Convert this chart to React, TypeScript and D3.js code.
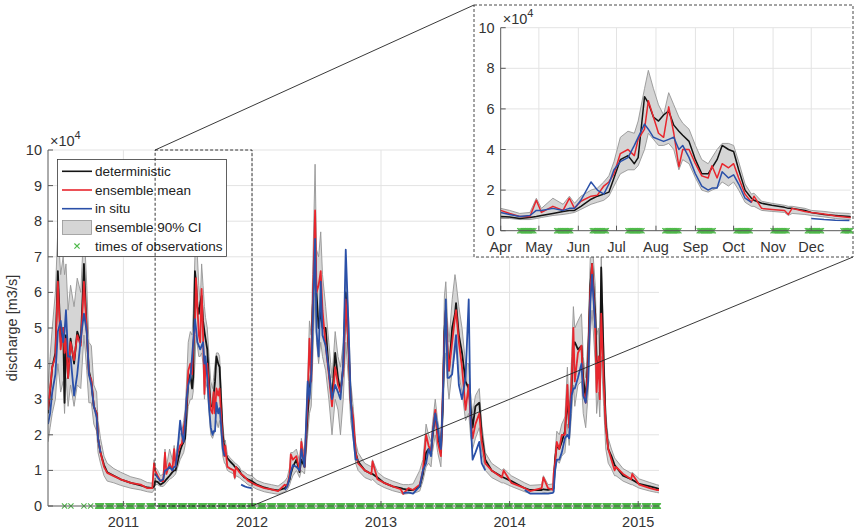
import React from 'react';
import * as d3 from 'd3';

// discharge in 10^4 m3/s: [date, deterministic, ensemble mean, in situ, CI 5%, CI 95%]
type Row = [string, number, number, number | null, number, number];

const season2010: Row[] = [
  ['2010-06-01', 2.6, 2.7, 2.3, 1.8, 3.3],
  ['2010-06-07', 3.2, 3.3, 2.6, 2.2, 4.2],
  ['2010-06-13', 3.9, 3.9, 3.2, 2.6, 5.0],
  ['2010-06-22', 4.3, 4.2, 3.7, 3.0, 6.0],
  ['2010-06-29', 6.6, 6.3, 4.9, 4.0, 7.8],
  ['2010-07-07', 4.6, 4.4, 5.2, 3.2, 6.5],
  ['2010-07-14', 5.0, 5.0, 4.6, 3.5, 7.0],
  ['2010-07-18', 2.9, 4.3, 4.9, 2.6, 6.5],
  ['2010-07-22', 4.8, 4.7, 5.5, 3.6, 6.8],
  ['2010-07-28', 3.6, 3.6, 4.2, 2.8, 5.5],
  ['2010-08-04', 4.7, 4.6, 4.2, 3.4, 6.2],
  ['2010-08-14', 4.0, 4.1, 3.1, 2.8, 5.6],
  ['2010-08-23', 4.9, 4.8, 3.7, 3.4, 6.4],
  ['2010-09-02', 4.6, 4.5, 4.7, 3.3, 6.0],
  ['2010-09-11', 6.8, 6.3, 5.4, 4.8, 7.9],
  ['2010-09-19', 4.9, 4.9, 4.9, 3.8, 6.2],
  ['2010-09-25', 3.8, 3.7, 3.7, 2.9, 4.6],
  ['2010-10-02', 3.5, 3.55, 3.4, 2.9, 4.5],
  ['2010-10-09', 2.8, 2.8, 2.8, 2.3, 3.4],
  ['2010-10-17', 2.6, 2.6, 2.5, 2.1, 3.2],
  ['2010-10-21', 1.9, 1.9, 1.9, 1.5, 2.4],
  ['2010-10-28', 1.5, 1.5, 1.5, 1.2, 1.9],
  ['2010-11-07', 1.15, 1.1, null, 0.85, 1.4],
  ['2010-11-16', 0.95, 0.93, null, 0.7, 1.2],
  ['2010-12-05', 0.85, 0.84, null, 0.65, 1.05],
  ['2010-12-24', 0.75, 0.75, null, 0.58, 0.95],
  ['2011-01-22', 0.65, 0.65, null, 0.5, 0.82],
  ['2011-02-19', 0.58, 0.6, null, 0.45, 0.75],
  ['2011-03-10', 0.52, 0.5, null, 0.4, 0.66],
  ['2011-03-24', 0.5, 0.5, null, 0.38, 0.64],
  ['2011-03-29', 0.55, 1.2, null, 0.45, 1.3],
];

const season2011: Row[] = [
  ['2011-04-01', 0.7, 1.0, 0.9, 0.6, 1.1],
  ['2011-04-08', 0.68, 0.85, 0.8, 0.6, 1.0],
  ['2011-04-16', 0.6, 0.7, 0.7, 0.55, 0.85],
  ['2011-04-24', 0.65, 0.7, 0.75, 0.55, 0.9],
  ['2011-04-29', 0.7, 1.5, 1.0, 0.6, 1.6],
  ['2011-05-03', 0.75, 0.9, 1.0, 0.65, 1.1],
  ['2011-05-12', 0.85, 1.2, 1.1, 0.75, 1.6],
  ['2011-05-20', 0.95, 1.0, 1.0, 0.8, 1.3],
  ['2011-05-25', 1.0, 1.6, 1.1, 0.85, 1.7],
  ['2011-05-29', 1.0, 1.1, 1.1, 0.9, 1.35],
  ['2011-06-03', 1.2, 1.45, 1.5, 1.05, 1.7],
  ['2011-06-11', 1.55, 1.7, 2.4, 1.3, 2.0],
  ['2011-06-16', 1.7, 1.75, 2.0, 1.4, 2.1],
  ['2011-06-21', 1.8, 2.2, 1.8, 1.5, 2.4],
  ['2011-06-25', 1.9, 2.4, 2.3, 1.7, 2.7],
  ['2011-06-29', 2.6, 2.8, 3.0, 2.2, 3.4],
  ['2011-07-04', 3.5, 3.8, 3.4, 2.8, 4.6],
  ['2011-07-10', 3.7, 4.0, 3.6, 3.0, 4.9],
  ['2011-07-15', 3.3, 3.7, 4.2, 3.0, 4.8],
  ['2011-07-18', 3.6, 4.5, 4.6, 3.2, 5.4],
  ['2011-07-23', 6.6, 5.0, 5.25, 4.0, 7.0],
  ['2011-07-26', 6.3, 6.4, 5.0, 4.8, 7.9],
  ['2011-07-30', 5.6, 5.6, 4.6, 4.5, 7.0],
  ['2011-08-03', 5.4, 4.8, 4.5, 4.2, 6.2],
  ['2011-08-07', 5.7, 4.6, 4.4, 4.2, 5.7],
  ['2011-08-11', 5.9, 6.1, 4.5, 4.3, 6.8],
  ['2011-08-15', 5.2, 4.8, 4.6, 4.0, 6.2],
  ['2011-08-19', 4.9, 3.15, 4.0, 3.0, 5.6],
  ['2011-08-22', 4.7, 4.0, 4.2, 3.5, 5.3],
  ['2011-08-27', 4.4, 4.0, 3.6, 3.3, 5.0],
  ['2011-09-01', 3.5, 3.3, 2.8, 2.6, 4.2],
  ['2011-09-06', 2.8, 2.7, 2.2, 2.0, 3.5],
  ['2011-09-11', 2.8, 2.6, 2.0, 1.9, 3.3],
  ['2011-09-14', 3.1, 3.2, 2.1, 2.0, 3.6],
  ['2011-09-18', 3.5, 2.6, 2.1, 2.1, 4.0],
  ['2011-09-22', 4.2, 3.3, 2.9, 2.4, 4.3],
  ['2011-09-27', 4.0, 3.1, 2.6, 2.2, 4.3],
  ['2011-10-01', 3.9, 3.3, 2.75, 2.4, 4.2],
  ['2011-10-05', 3.0, 2.6, 2.3, 2.0, 3.4],
  ['2011-10-10', 2.0, 1.8, 1.6, 1.4, 2.3],
  ['2011-10-15', 1.6, 1.4, 1.4, 1.2, 1.8],
  ['2011-10-17', 1.5, 1.7, null, 1.2, 1.85],
  ['2011-10-23', 1.35, 1.1, null, 1.0, 1.45],
  ['2011-10-31', 1.25, 1.05, null, 0.95, 1.35],
  ['2011-11-10', 1.15, 1.0, null, 0.9, 1.25],
  ['2011-11-13', 1.1, 0.8, null, 0.75, 1.2],
  ['2011-11-16', 1.1, 1.1, null, 0.85, 1.2],
  ['2011-11-26', 1.0, 0.95, null, 0.8, 1.1],
  ['2011-12-01', 0.9, 0.9, 0.6, 0.75, 1.0],
  ['2011-12-11', 0.8, 0.82, 0.55, 0.68, 0.95],
  ['2011-12-20', 0.75, 0.72, 0.52, 0.6, 0.88],
  ['2011-12-31', 0.7, 0.65, 0.5, 0.55, 0.85],
];

const season2012: Row[] = [
  ['2012-01-15', 0.6, 0.58, null, 0.47, 0.72],
  ['2012-02-05', 0.52, 0.5, null, 0.4, 0.64],
  ['2012-02-25', 0.47, 0.47, null, 0.36, 0.6],
  ['2012-03-15', 0.44, 0.42, null, 0.33, 0.56],
  ['2012-04-03', 0.5, 0.6, 0.45, 0.4, 0.7],
  ['2012-04-10', 0.6, 0.55, 0.55, 0.45, 0.8],
  ['2012-04-17', 0.75, 0.9, 0.8, 0.6, 1.1],
  ['2012-04-20', 0.9, 1.45, 0.95, 0.7, 1.5],
  ['2012-04-26', 1.1, 1.3, 1.15, 0.85, 1.5],
  ['2012-05-06', 1.3, 1.4, 1.1, 1.0, 1.6],
  ['2012-05-15', 0.95, 1.0, 1.0, 0.8, 1.25],
  ['2012-05-20', 1.3, 1.8, 1.6, 1.0, 1.9],
  ['2012-05-29', 1.1, 1.1, 1.1, 0.9, 1.4],
  ['2012-06-07', 2.6, 3.0, 3.5, 2.0, 3.6],
  ['2012-06-12', 3.2, 4.7, 3.0, 2.6, 5.2],
  ['2012-06-17', 3.8, 3.5, 3.7, 2.8, 4.8],
  ['2012-06-21', 5.5, 5.5, 5.0, 4.0, 6.5],
  ['2012-06-28', 7.3, 8.3, 7.5, 6.0, 9.6],
  ['2012-07-02', 6.0, 6.0, 4.9, 4.6, 7.2],
  ['2012-07-08', 5.0, 6.2, 4.2, 4.0, 7.0],
  ['2012-07-14', 5.5, 6.6, 6.3, 4.6, 7.7],
  ['2012-07-19', 5.0, 5.5, 4.8, 4.2, 6.5],
  ['2012-07-28', 5.0, 4.5, 4.5, 3.8, 5.6],
  ['2012-08-06', 3.8, 3.7, 3.8, 3.0, 4.6],
  ['2012-08-15', 3.0, 2.8, 3.0, 2.0, 3.6],
  ['2012-08-24', 4.3, 3.9, 3.4, 3.0, 4.9],
  ['2012-09-01', 3.6, 3.4, 3.2, 2.7, 4.2],
  ['2012-09-08', 3.2, 3.2, 3.0, 2.0, 3.9],
  ['2012-09-16', 3.9, 3.8, 4.0, 3.0, 4.6],
  ['2012-09-23', 6.0, 5.8, 7.2, 4.6, 6.6],
  ['2012-10-01', 4.4, 4.5, 5.0, 3.5, 5.3],
  ['2012-10-07', 3.0, 2.9, 3.0, 2.4, 3.5],
  ['2012-10-14', 2.3, 2.5, 2.0, 1.9, 2.8],
  ['2012-10-21', 1.5, 1.5, 1.3, 1.2, 1.8],
  ['2012-10-28', 1.25, 1.2, 1.3, 1.0, 1.5],
  ['2012-11-16', 1.0, 1.0, null, 0.8, 1.2],
  ['2012-12-05', 0.9, 0.9, null, 0.72, 1.1],
  ['2012-12-08', 0.9, 1.25, null, 0.75, 1.3],
  ['2012-12-22', 0.8, 0.75, null, 0.62, 0.95],
];

const season2013: Row[] = [
  ['2013-01-10', 0.65, 0.65, null, 0.52, 0.8],
  ['2013-02-03', 0.55, 0.55, null, 0.43, 0.7],
  ['2013-02-26', 0.5, 0.47, null, 0.37, 0.62],
  ['2013-03-05', 0.48, 0.34, 0.36, 0.33, 0.6],
  ['2013-03-20', 0.45, 0.5, 0.38, 0.35, 0.6],
  ['2013-04-02', 0.45, 0.45, 0.35, 0.35, 0.62],
  ['2013-04-21', 0.55, 0.6, 0.55, 0.42, 1.0],
  ['2013-04-30', 0.9, 1.0, 1.0, 0.7, 1.3],
  ['2013-05-09', 1.5, 2.0, 1.2, 1.1, 2.3],
  ['2013-05-16', 1.6, 1.7, 1.6, 1.2, 2.0],
  ['2013-05-23', 1.5, 1.5, 1.4, 1.1, 1.8],
  ['2013-05-27', 1.9, 2.0, 2.0, 1.5, 2.3],
  ['2013-06-04', 2.6, 2.7, 2.6, 2.0, 3.0],
  ['2013-06-11', 2.0, 1.8, 2.2, 1.5, 2.4],
  ['2013-06-20', 1.5, 1.4, 1.6, 1.1, 1.9],
  ['2013-06-25', 2.7, 3.0, 2.8, 2.2, 3.5],
  ['2013-06-30', 4.9, 4.7, 4.5, 3.8, 5.9],
  ['2013-07-04', 5.5, 5.5, 5.8, 4.3, 6.3],
  ['2013-07-09', 4.3, 4.4, 3.6, 3.4, 5.2],
  ['2013-07-13', 3.8, 3.8, 3.6, 3.0, 4.6],
  ['2013-07-22', 5.0, 4.6, 3.7, 3.8, 5.8],
  ['2013-07-30', 5.4, 5.3, 4.5, 4.3, 6.5],
  ['2013-08-02', 5.7, 5.5, 4.8, 4.5, 6.3],
  ['2013-08-10', 4.8, 4.6, 3.4, 3.7, 5.6],
  ['2013-08-19', 4.3, 3.9, 3.0, 3.2, 5.0],
  ['2013-08-29', 3.5, 2.7, 3.6, 2.4, 4.0],
  ['2013-09-07', 3.3, 3.4, 5.8, 2.6, 4.0],
  ['2013-09-12', 2.8, 2.5, 2.5, 2.0, 3.2],
  ['2013-09-18', 2.2, 1.9, 1.3, 1.6, 2.6],
  ['2013-09-26', 2.8, 2.3, 1.5, 1.9, 3.1],
  ['2013-10-07', 2.9, 2.6, 1.8, 2.2, 3.3],
  ['2013-10-14', 2.0, 1.8, 1.2, 1.5, 2.3],
  ['2013-10-24', 1.3, 1.2, 1.0, 1.0, 1.5],
  ['2013-11-11', 1.0, 1.0, null, 0.8, 1.2],
  ['2013-12-10', 0.82, 0.8, null, 0.65, 1.0],
  ['2013-12-15', 0.8, 1.0, null, 0.65, 1.05],
];

const season2014: Row[] = [
  ['2014-01-06', 0.7, 0.65, null, 0.55, 0.85],
  ['2014-02-13', 0.5, 0.5, 0.45, 0.4, 0.65],
  ['2014-02-28', 0.45, 0.42, 0.35, 0.35, 0.58],
  ['2014-04-02', 0.45, 0.5, 0.35, 0.35, 0.6],
  ['2014-04-07', 0.47, 0.8, 0.35, 0.38, 0.85],
  ['2014-04-20', 0.45, 0.5, 0.35, 0.36, 0.6],
  ['2014-05-04', 0.48, 0.45, 0.37, 0.38, 0.62],
  ['2014-05-06', 0.5, 0.9, 0.4, 0.4, 0.95],
  ['2014-05-10', 1.3, 1.2, 1.0, 0.9, 1.5],
  ['2014-05-15', 1.7, 1.8, 1.3, 1.3, 2.1],
  ['2014-05-22', 1.6, 1.6, 1.3, 1.2, 2.0],
  ['2014-05-29', 1.8, 2.0, 1.5, 1.4, 2.3],
  ['2014-06-07', 2.1, 2.0, 1.9, 1.5, 2.5],
  ['2014-06-14', 3.0, 3.4, 2.0, 2.3, 3.9],
  ['2014-06-19', 2.3, 2.2, 1.9, 1.7, 2.7],
  ['2014-06-26', 3.3, 3.5, 3.1, 2.6, 4.2],
  ['2014-07-01', 4.5, 5.0, 3.3, 3.4, 5.6],
  ['2014-07-05', 4.6, 3.5, 3.3, 2.8, 5.0],
  ['2014-07-14', 4.4, 4.3, 3.6, 3.4, 5.2],
  ['2014-07-24', 4.5, 4.5, 4.0, 3.5, 5.4],
  ['2014-07-29', 3.6, 3.2, 3.1, 2.6, 4.2],
  ['2014-08-05', 3.0, 2.9, 2.9, 2.2, 3.6],
  ['2014-08-12', 4.2, 4.0, 3.5, 3.2, 4.8],
  ['2014-08-18', 6.2, 6.0, 5.7, 4.8, 7.0],
  ['2014-08-23', 6.8, 6.8, 6.5, 5.5, 7.5],
  ['2014-09-01', 5.4, 5.0, 5.0, 4.0, 6.2],
  ['2014-09-05', 4.1, 3.2, null, 2.6, 4.8],
  ['2014-09-10', 4.0, 4.2, null, 3.2, 5.0],
  ['2014-09-14', 3.6, 3.0, null, 2.5, 4.2],
  ['2014-09-18', 6.7, 5.4, null, 4.2, 7.0],
  ['2014-09-25', 4.0, 3.5, null, 2.8, 4.6],
  ['2014-10-01', 2.3, 2.2, null, 1.6, 2.6],
  ['2014-10-08', 1.6, 1.6, null, 1.2, 1.9],
  ['2014-10-17', 1.4, 1.3, null, 1.05, 1.6],
  ['2014-10-26', 1.15, 1.0, null, 0.85, 1.35],
  ['2014-10-30', 1.1, 1.1, null, 0.85, 1.3],
  ['2014-11-19', 0.85, 0.9, null, 0.7, 1.05],
  ['2014-12-12', 0.75, 0.75, null, 0.6, 0.92],
  ['2014-12-15', 0.74, 0.9, null, 0.6, 0.95],
  ['2015-01-04', 0.62, 0.6, null, 0.5, 0.76],
  ['2015-02-03', 0.55, 0.5, null, 0.42, 0.66],
  ['2015-02-22', 0.5, 0.45, null, 0.38, 0.6],
  ['2015-03-01', 0.48, 0.45, null, 0.37, 0.58],
];

const yearTicks = ['2011', '2012', '2013', '2014', '2015'];
const monthTicks = ['Apr', 'May', 'Jun', 'Jul', 'Aug', 'Sep', 'Oct', 'Nov', 'Dec'];
const mainYTicks = [0, 1, 2, 3, 4, 5, 6, 7, 8, 9, 10];
const insetYTicks = [0, 2, 4, 6, 8, 10];

// single observations in 2010, then windows of daily observations
const obsSingle = ['2010-07-18', '2010-08-05', '2010-09-11', '2010-09-30'];
const obsWindowStarts = [
  '2010-10-20', '2010-11-18', '2010-12-17', '2011-01-15', '2011-02-13', '2011-03-15',
  '2011-04-16', '2011-05-15', '2011-06-12', '2011-07-10', '2011-08-08', '2011-09-04',
  '2011-10-03', '2011-11-01', '2011-11-28', '2011-12-26', '2012-01-23', '2012-02-20',
  '2012-03-19', '2012-04-16', '2012-05-14', '2012-06-11', '2012-07-09', '2012-08-06',
  '2012-09-03', '2012-10-01', '2012-10-29', '2012-11-26', '2012-12-24', '2013-01-21',
  '2013-02-18', '2013-03-18', '2013-04-15', '2013-05-13', '2013-06-10', '2013-07-08',
  '2013-08-05', '2013-09-02', '2013-09-30', '2013-10-28', '2013-11-25', '2013-12-23',
  '2014-01-20', '2014-02-17', '2014-03-17', '2014-04-14', '2014-05-12', '2014-06-09',
  '2014-07-07', '2014-08-04', '2014-09-01', '2014-09-29', '2014-10-27', '2014-11-24',
  '2014-12-22', '2015-01-19', '2015-02-16',
];
const obsWindowDays = 12;

const parse = d3.timeParse('%Y-%m-%d');
const font = '"Liberation Sans", Arial, Helvetica, sans-serif';
const C = {
  det: '#141414',
  mean: '#e8262d',
  situ: '#2a50a8',
  ciFill: '#d5d5d5',
  ciEdge: '#959595',
  obs: '#4db848',
  grid: '#e3e3e3',
  axis: '#595959',
  text: '#333333',
};

interface Pt {
  date: Date;
  det: number;
  mean: number;
  situ: number | null;
  lo: number;
  hi: number;
}

const rows: Pt[] = [...season2010, ...season2011, ...season2012, ...season2013, ...season2014].map(r => ({
  date: parse(r[0])!,
  det: r[1],
  mean: r[2],
  situ: r[3],
  lo: r[4],
  hi: r[5],
}));

const obsDates: Date[] = [
  ...obsSingle.map(d => parse(d)!),
  ...obsWindowStarts.flatMap(s => d3.range(obsWindowDays).map(i => d3.timeDay.offset(parse(s)!, i))),
];

const cross = 'M-2.6,-2.6L2.6,2.6M-2.6,2.6L2.6,-2.6';

interface PanelProps {
  id: string;
  x: d3.ScaleTime<number, number>;
  y: d3.ScaleLinear<number, number>;
  lw: number;
}

function Series({ id, x, y, lw }: PanelProps) {
  const [x0, x1] = x.range();
  const [y0, y1] = y.range();
  const band = d3.area<Pt>().x(d => x(d.date)).y0(d => y(d.lo)).y1(d => y(d.hi));
  const edge = (k: 'lo' | 'hi') => d3.line<Pt>().x(d => x(d.date)).y(d => y(d[k]))(rows)!;
  const line = (k: 'det' | 'mean' | 'situ') =>
    d3
      .line<Pt>()
      .defined(d => d[k] != null)
      .x(d => x(d.date))
      .y(d => y(d[k] as number))(rows)!;
  const [d0, d1] = x.domain();
  const obs = obsDates.filter(d => d >= d0 && d <= d1);
  return (
    <g>
      <clipPath id={id}>
        <rect x={x0} y={y1} width={x1 - x0} height={y0 - y1} />
      </clipPath>
      <g clipPath={`url(#${id})`}>
        <path d={band(rows)!} fill={C.ciFill} stroke="none" />
        <path d={edge('lo')} fill="none" stroke={C.ciEdge} strokeWidth={0.9} />
        <path d={edge('hi')} fill="none" stroke={C.ciEdge} strokeWidth={0.9} />
        <path d={line('det')} fill="none" stroke={C.det} strokeWidth={lw} strokeLinejoin="round" />
        <path d={line('mean')} fill="none" stroke={C.mean} strokeWidth={lw} strokeLinejoin="round" />
        <path d={line('situ')} fill="none" stroke={C.situ} strokeWidth={lw} strokeLinejoin="round" />
      </g>
      <g stroke={C.obs} strokeWidth={1.1} fill="none">
        {obs.map((d, i) => (
          <path key={i} d={cross} transform={`translate(${x(d)},${y(0)})`} />
        ))}
      </g>
    </g>
  );
}

function Frame({
  x,
  y,
  xTicks,
  xLabels,
  yTicks,
}: {
  x: d3.ScaleTime<number, number>;
  y: d3.ScaleLinear<number, number>;
  xTicks: Date[];
  xLabels: string[];
  yTicks: number[];
}) {
  const [x0, x1] = x.range();
  const [y0, y1] = y.range();
  return (
    <g fontFamily={font} fontSize={14.5} fill={C.text}>
      {xTicks.map((t, i) => (
        <g key={i}>
          <text x={x(t)} y={y0 + 21} textAnchor="middle">
            {xLabels[i]}
          </text>
          <line x1={x(t)} x2={x(t)} y1={y0} y2={y0 - 5} stroke={C.axis} />
        </g>
      ))}
      {yTicks.map(t => (
        <g key={t}>
          <text x={x0 - 6} y={y(t)} dy="0.35em" textAnchor="end">
            {t}
          </text>
          <line x1={x0} x2={x0 + 5} y1={y(t)} y2={y(t)} stroke={C.axis} />
        </g>
      ))}
      <line x1={x0} x2={x0} y1={y0} y2={y1} stroke={C.axis} />
      <line x1={x0} x2={x1} y1={y0} y2={y0} stroke={C.axis} />
      <text x={x0 + 2} y={y1 - 4}>
        ×10
        <tspan dy={-7} fontSize={11}>
          4
        </tspan>
      </text>
    </g>
  );
}

function Grid({
  x,
  y,
  xTicks,
  yTicks,
}: {
  x: d3.ScaleTime<number, number>;
  y: d3.ScaleLinear<number, number>;
  xTicks: Date[];
  yTicks: number[];
}) {
  const [x0, x1] = x.range();
  const [y0, y1] = y.range();
  return (
    <g stroke={C.grid} strokeWidth={1}>
      {xTicks.map((t, i) => (
        <line key={i} x1={x(t)} x2={x(t)} y1={y0} y2={y1} />
      ))}
      {yTicks
        .filter(t => t > 0)
        .map(t => (
          <line key={t} x1={x0} x2={x1} y1={y(t)} y2={y(t)} />
        ))}
    </g>
  );
}

export default function App() {
  const xMain = d3
    .scaleTime()
    .domain([parse('2010-06-01')!, parse('2015-03-01')!])
    .range([48, 659]);
  const yMain = d3.scaleLinear().domain([0, 10]).range([506, 150]);

  const xIn = d3
    .scaleTime()
    .domain([parse('2011-04-01')!, parse('2012-01-01')!])
    .range([500.7, 850.7]);
  const yIn = d3.scaleLinear().domain([0, 10]).range([230.7, 27.7]);

  const yearDates = yearTicks.map(t => parse(`${t}-01-01`)!);
  const monthDates = d3.timeMonth.range(parse('2011-04-01')!, parse('2012-01-01')!);

  const zoomFrom = xMain(parse('2011-04-01')!);
  const zoomTo = xMain(parse('2012-01-01')!);
  const box = { x0: 474, y0: 5, x1: 853, y1: 257 };

  const legendItems = [
    { label: 'deterministic', kind: 'line', color: C.det },
    { label: 'ensemble mean', kind: 'line', color: C.mean },
    { label: 'in situ', kind: 'line', color: C.situ },
    { label: 'ensemble 90% CI', kind: 'patch', color: C.ciFill },
    { label: 'times of observations', kind: 'mark', color: C.obs },
  ];
  const lg = { x: 57.5, y: 159.5, w: 169, h: 97 };

  return (
    <svg
      width={857}
      height={532}
      style={{ position: 'absolute', left: 0, top: 0, background: '#fff' }}
      fontFamily={font}
    >
      <rect width={857} height={532} fill="#fff" />

      {/* main axes */}
      <Grid x={xMain} y={yMain} xTicks={yearDates} yTicks={mainYTicks} />
      <Series id="clip-main" x={xMain} y={yMain} lw={1.8} />
      <Frame x={xMain} y={yMain} xTicks={yearDates} xLabels={yearTicks} yTicks={mainYTicks} />
      <text
        transform={`translate(17,${(506 + 150) / 2}) rotate(-90)`}
        textAnchor="middle"
        fontSize={14.5}
        fill={C.text}
      >
        discharge [m3/s]
      </text>

      {/* legend */}
      <g>
        <rect x={lg.x} y={lg.y} width={lg.w} height={lg.h} fill="#fff" stroke="#3a3a3a" strokeWidth={0.8} />
        {legendItems.map((it, i) => {
          const cy = lg.y + 11.8 + i * 18.7;
          return (
            <g key={it.label}>
              {it.kind === 'line' && <line x1={62} x2={92} y1={cy} y2={cy} stroke={it.color} strokeWidth={1.6} />}
              {it.kind === 'patch' && (
                <rect x={62.5} y={cy - 7} width={29} height={14} fill={it.color} stroke={C.ciEdge} strokeWidth={0.8} />
              )}
              {it.kind === 'mark' && (
                <path d={cross} transform={`translate(77,${cy})`} stroke={it.color} strokeWidth={1.1} fill="none" />
              )}
              <text x={95} y={cy} dy="0.35em" fontSize={13.5} fill="#222">
                {it.label}
              </text>
            </g>
          );
        })}
      </g>

      {/* zoom box and connectors */}
      <g fill="none" stroke="#222" strokeWidth={0.9}>
        <rect
          x={zoomFrom}
          y={yMain(10)}
          width={zoomTo - zoomFrom}
          height={yMain(0) - yMain(10)}
          strokeDasharray="3,2"
        />
        <line x1={zoomFrom} y1={yMain(10)} x2={box.x0} y2={box.y0} />
        <line x1={zoomTo} y1={yMain(0)} x2={box.x1} y2={box.y1} />
      </g>

      {/* inset */}
      <g>
        <rect
          x={box.x0}
          y={box.y0}
          width={box.x1 - box.x0}
          height={box.y1 - box.y0}
          fill="#fff"
          stroke="#333"
          strokeWidth={0.9}
          strokeDasharray="3,2"
        />
        <Grid x={xIn} y={yIn} xTicks={monthDates.slice(1)} yTicks={insetYTicks} />
        <Series id="clip-inset" x={xIn} y={yIn} lw={1.5} />
        <Frame x={xIn} y={yIn} xTicks={monthDates} xLabels={monthTicks} yTicks={insetYTicks} />
      </g>
    </svg>
  );
}
